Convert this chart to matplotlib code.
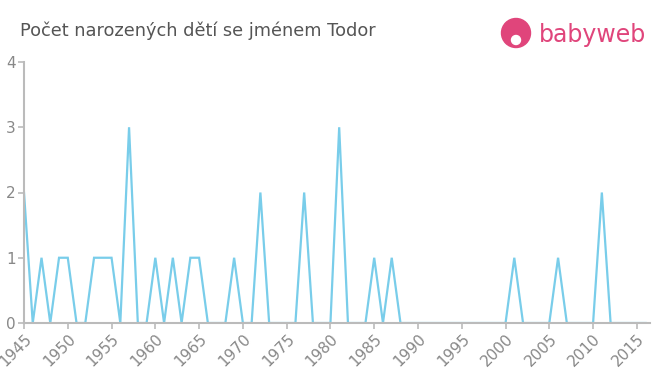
import matplotlib.pyplot as plt
from matplotlib.patches import Circle

# data
years = list(range(1945, 2017))
counts = [2, 0, 1, 0, 1, 1, 0, 0, 1, 1,   # 1945-1954
          1, 0, 3, 0, 0, 1, 0, 1, 0, 1,   # 1955-1964
          1, 0, 0, 0, 1, 0, 0, 2, 0, 0,   # 1965-1974
          0, 0, 2, 0, 0, 0, 3, 0, 0, 0,   # 1975-1984
          1, 0, 1, 0, 0, 0, 0, 0, 0, 0,   # 1985-1994
          0, 0, 0, 0, 0, 0, 1, 0, 0, 0,   # 1995-2004
          0, 1, 0, 0, 0, 0, 2, 0, 0, 0,   # 2005-2014
          0, 0]                           # 2015-2016
xticks = list(range(1945, 2016, 5))
yticks = [0, 1, 2, 3, 4]

title = "Počet narozených dětí se jménem Todor"

fig = plt.figure(figsize=(6.6, 3.75), dpi=100)
ax = fig.add_axes([24/660, 1 - 323/375, 626/660, 261/375])

ax.plot(years, counts, color='#79cdea', lw=1.6, solid_joinstyle='miter')

ax.set_xlim(1945, 2016.5)
ax.set_ylim(0, 4)
ax.set_xticks(xticks)
ax.set_xticklabels([str(y) for y in xticks], rotation=45, ha='right',
                   rotation_mode='anchor')
ax.set_yticks(yticks)

for s in ['top', 'right']:
    ax.spines[s].set_visible(False)
for s in ['left', 'bottom']:
    ax.spines[s].set_color('#bbbbbb')
    ax.spines[s].set_linewidth(1.5)
ax.tick_params(axis='both', colors='#bbbbbb', labelcolor='#888888',
               labelsize=11, length=4, width=1.2)
ax.tick_params(axis='y', pad=2)
ax.tick_params(axis='x', pad=2)

fig.text(20/660, 1 - 31/375, title, fontsize=12.8, color='#555555',
         va='center', ha='left')

# logo
pink = '#e0457b'
fig.patches.append(Circle((5.16, 3.75 - 0.33), 0.145, transform=fig.dpi_scale_trans,
                          color=pink))
fig.patches.append(Circle((5.16, 3.75 - 0.40), 0.045, transform=fig.dpi_scale_trans,
                          color='white'))
fig.text(539/660, 1 - 35/375, 'babyweb', fontsize=17, color=pink,
         va='center', ha='left')

fig.savefig('out.png', dpi=100)
